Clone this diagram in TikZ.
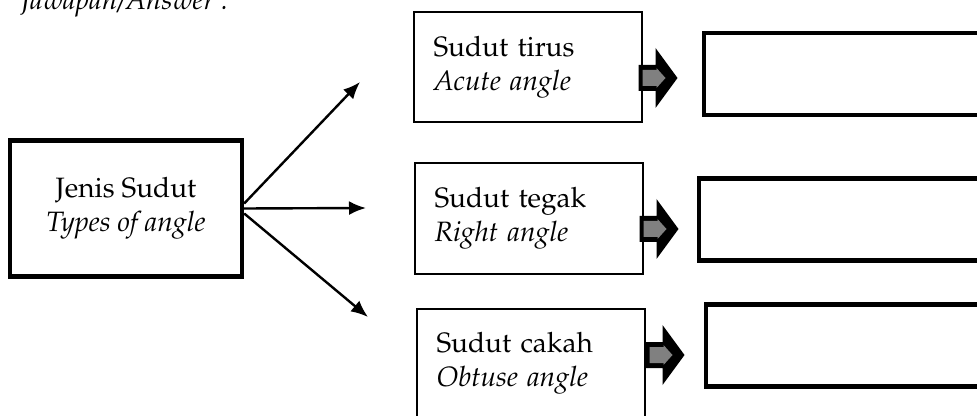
\documentclass[tikz,border=0pt]{standalone}
\usepackage[T1]{fontenc}
\usepackage{mathpazo}
\usetikzlibrary{arrows.meta}

\tikzset{
    txt/.style={font=\fontsize{14}{17}\selectfont},
    catbox/.style={txt, draw, line width=1pt, text width=94pt, inner xsep=10pt, minimum height=55pt, align=left},
    ansbox/.style={draw, line width=2.2pt, minimum width=150pt, minimum height=41pt, anchor=west},
    blockarrow/.style={fill=black},
    hatch/.style={fill=black!50},
    link/.style={line width=1.2pt, -{Latex[length=8.5pt,width=7pt]}}
}

\begin{document}
\begin{tikzpicture}[x=0.5pt, y=-0.5pt]
    % page 977 x 416
    \path[fill=white, use as bounding box] (0,0) rectangle (977,416);
    \clip (0,0) rectangle (977,416);

    \node[anchor=base west, font=\fontsize{14}{17}\selectfont\itshape] (answer) at (14,10) {Jawapan/Answer :};

    \node[txt, draw, line width=2.2pt, minimum width=116pt, minimum height=68pt, align=center] (types) at (126,208.5) {Jenis Sudut\\\textit{Types of angle}};

    \node[catbox] (acute)  at (527.5,67)    {Sudut tirus\\\textit{Acute angle}};
    \node[catbox] (right)  at (528.5,218.5) {Sudut tegak\\\textit{Right angle}};
    \node[catbox] (obtuse) at (530.5,363.5) {Sudut cakah\\\textit{Obtuse angle}};

    \node[ansbox] (ansA) at (702,74)    {};
    \node[ansbox] (ansR) at (697,219.5) {};
    \node[ansbox] (ansO) at (704,345.5) {};

    \coordinate (tipA) at (360,82);
    \coordinate (tipR) at (366,208);
    \coordinate (tipO) at (368,317);
    \draw[link] ([yshift=2.5pt]types.east)  -- (tipA);
    \draw[link] (types.east)                -- (tipR);
    \draw[link] ([yshift=-2.5pt]types.east) -- (tipO);

    \fill[blockarrow] ([shift={(-4,11)}]acute.east) ++(0,-13) -- ++(17,0) -- ++(0,-17) -- ++(22,30) -- ++(-22,30) -- ++(0,-17) -- ++(-17,0) -- cycle;
    \fill[hatch] ([shift={(0,11)}]acute.east) ++(0,-8) -- ++(14,0) -- ++(0,-2) -- ++(9,10) -- ++(-9,10) -- ++(0,-2) -- ++(-14,0) -- cycle;

    \fill[blockarrow] ([shift={(-4,10.5)}]right.east) ++(0,-13) -- ++(17,0) -- ++(0,-17) -- ++(22,30) -- ++(-22,30) -- ++(0,-17) -- ++(-17,0) -- cycle;
    \fill[hatch] ([shift={(0,10.5)}]right.east) ++(0,-8) -- ++(14,0) -- ++(0,-2) -- ++(9,10) -- ++(-9,10) -- ++(0,-2) -- ++(-14,0) -- cycle;

    \fill[blockarrow] ([shift={(0,-8.5)}]obtuse.east) ++(0,-13) -- ++(17,0) -- ++(0,-17) -- ++(22,30) -- ++(-22,30) -- ++(0,-17) -- ++(-17,0) -- cycle;
    \fill[hatch] ([shift={(4,-8.5)}]obtuse.east) ++(0,-8) -- ++(14,0) -- ++(0,-2) -- ++(9,10) -- ++(-9,10) -- ++(0,-2) -- ++(-14,0) -- cycle;
\end{tikzpicture}
\end{document}
